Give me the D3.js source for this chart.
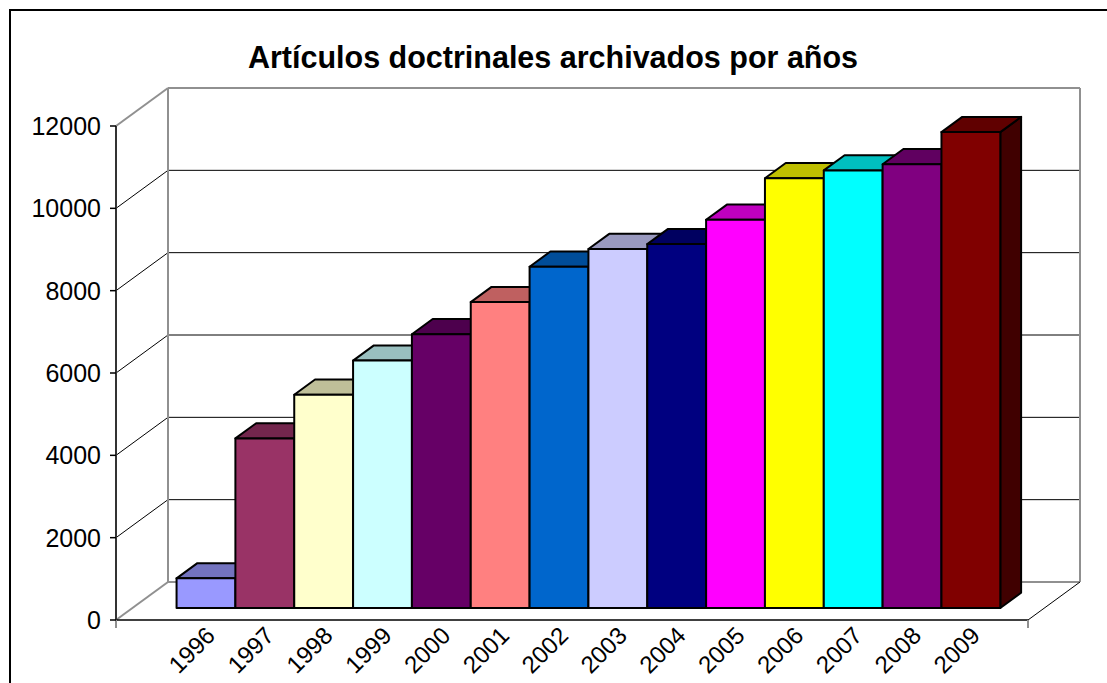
<!DOCTYPE html>
<html>
<head>
<meta charset="utf-8">
<script src="https://cdn.jsdelivr.net/npm/d3@7"></script>
<style>
  body { margin: 0; background: #fff; }
  text { font-family: "Liberation Sans", Arial, sans-serif; }
</style>
</head>
<body>
<div id="chart"></div>
<script>
// data
var years = ["1996","1997","1998","1999","2000","2001","2002","2003","2004","2005","2006","2007","2008","2009"];
var articles = [720, 4120, 5180, 6010, 6650, 7430, 8290, 8720, 8840, 9430, 10440, 10630, 10780, 11560];
var barColors = ["#9999FF","#993366","#FFFFCC","#CCFFFF","#660066","#FF8080","#0066CC",
                 "#CCCCFF","#000080","#FF00FF","#FFFF00","#00FFFF","#800080","#800000"];
var yTicks = [0, 2000, 4000, 6000, 8000, 10000, 12000];
var title = "Artículos doctrinales archivados por años";

var width = 1107, height = 683;

var svg = d3.select("#chart").append("svg")
    .attr("width", width)
    .attr("height", height);

svg.append("rect").attr("width", width).attr("height", height).attr("fill", "#fff");

// outer frame (runs off the right/bottom of the picture)
svg.append("rect")
    .attr("x", 10).attr("y", 10)
    .attr("width", 1300).attr("height", 900)
    .attr("fill", "none").attr("stroke", "#000").attr("stroke-width", 2);

svg.append("text")
    .attr("x", 553).attr("y", 68)
    .attr("text-anchor", "middle")
    .style("font-size", "30.5px").style("font-weight", "bold")
    .text(title);

// pseudo 3d frame: front origin, depth vector
var ox = 116, oy = 620;
var depth = {x: 52, y: -38};
var floorW = 912;

var x = d3.scaleBand().domain(years).range([0, floorW]).paddingInner(0).paddingOuter(0.75);
var y = d3.scaleLinear().domain([0, 12000]).range([0, 494]);

// project (horizontal pos, value, depth fraction) to screen
function pt(px, v, d) {
  return [ox + px + d * depth.x, oy - y(v) + d * depth.y];
}
function poly(pts) { return "M" + pts.map(function(p) { return p.join(","); }).join("L") + "Z"; }
function line(a, b, col, w) {
  svg.append("line")
    .attr("x1", a[0]).attr("y1", a[1]).attr("x2", b[0]).attr("y2", b[1])
    .attr("stroke", col).attr("stroke-width", w);
}

// gridlines on back wall and left wall
yTicks.forEach(function(t) {
  if (t === 0 || t === 12000) return;
  line(pt(0, t, 0), pt(0, t, 1), "#000", 1);
  line(pt(0, t, 1), pt(floorW, t, 1), "#000", 1);
});

// wall edges (grey)
line(pt(0, 0, 1), pt(0, 12000, 1), "#909090", 2);
line(pt(floorW, 0, 1), pt(floorW, 12000, 1), "#909090", 2);
line(pt(0, 12000, 1), pt(floorW, 12000, 1), "#909090", 2);
line(pt(0, 12000, 0), pt(0, 12000, 1), "#909090", 2);
line(pt(0, 0, 1), pt(floorW, 0, 1), "#909090", 2);
line(pt(0, 0, 0), pt(0, 0, 1), "#909090", 2);

// floor front + right edge
line(pt(0, 0, 0), pt(floorW, 0, 0), "#000", 1.5);
line(pt(floorW, 0, 0), pt(floorW, 0, 1), "#000", 1);
line([ox + floorW, oy], [ox + floorW, oy + 8], "#909090", 2);

// y axis
line(pt(0, 0, 0), pt(0, 12000, 0), "#333", 2);
line([ox, oy], [ox, oy + 8], "#909090", 2);
var yAxis = svg.append("g");
yTicks.forEach(function(t) {
  var p = pt(0, t, 0);
  line([p[0] - 6, p[1]], p, "#000", 1.5);
  yAxis.append("text")
    .attr("x", p[0] - 15).attr("y", p[1])
    .attr("dy", "0.36em")
    .attr("text-anchor", "end")
    .style("font-size", "25px")
    .text(t);
});

// bars
var d0 = 0.316, dd = 0.4;
var bars = svg.append("g");
years.forEach(function(yr, i) {
  var v = articles[i];
  var c = d3.rgb(barColors[i]);
  var top = d3.rgb(c.r * 0.75, c.g * 0.75, c.b * 0.75);
  var side = d3.rgb(c.r * 0.5, c.g * 0.5, c.b * 0.5);
  var x0 = x(yr), x1 = x(yr) + x.bandwidth();
  var g = bars.append("g").attr("stroke", "#000").attr("stroke-width", 2).attr("stroke-linejoin", "round");
  g.append("path").attr("fill", side)
    .attr("d", poly([pt(x1, 0, d0), pt(x1, v, d0), pt(x1, v, d0 + dd), pt(x1, 0, d0 + dd)]));
  g.append("path").attr("fill", top)
    .attr("d", poly([pt(x0, v, d0), pt(x1, v, d0), pt(x1, v, d0 + dd), pt(x0, v, d0 + dd)]));
  g.append("path").attr("fill", c)
    .attr("d", poly([pt(x0, 0, d0), pt(x1, 0, d0), pt(x1, v, d0), pt(x0, v, d0)]));
});

// category labels
var xAxis = svg.append("g");
years.forEach(function(yr) {
  var cx = ox + x(yr) + x.bandwidth() / 2 + 27;
  xAxis.append("text")
    .attr("transform", "translate(" + cx + "," + (oy + 17) + ") rotate(-45)")
    .attr("text-anchor", "end")
    .style("font-size", "24px")
    .text(yr);
});
</script>
</body>
</html>
